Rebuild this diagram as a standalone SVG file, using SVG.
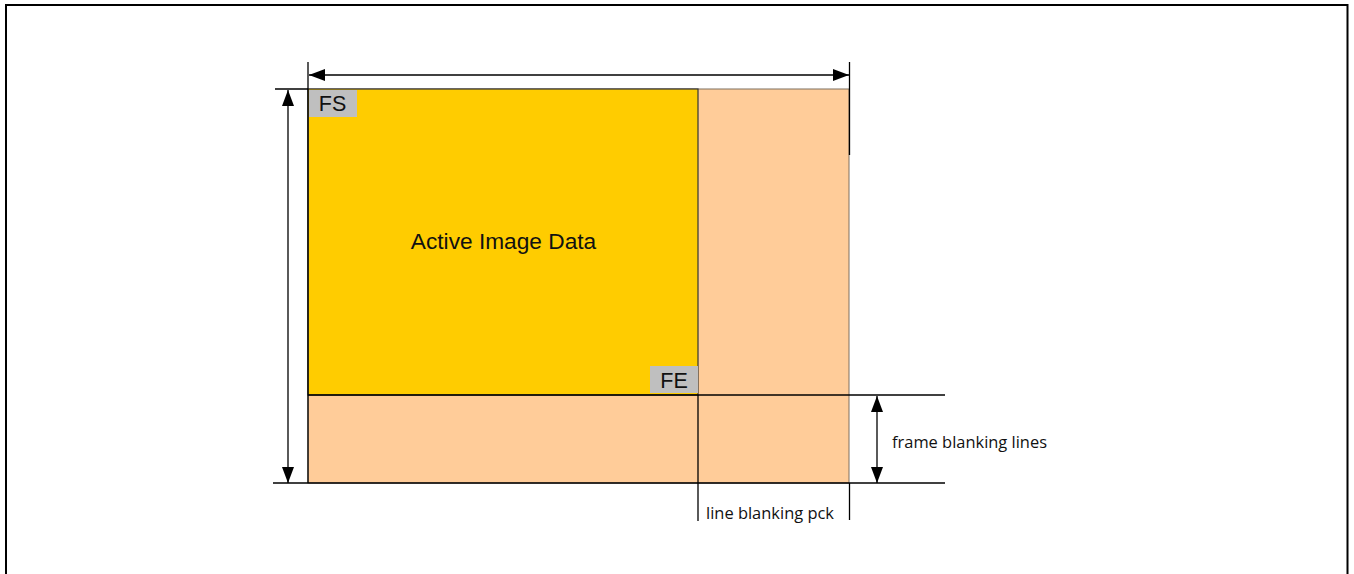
<svg xmlns="http://www.w3.org/2000/svg" width="1354" height="574" viewBox="0 0 1354 574">
<style>
.ln{stroke:#000;stroke-width:1.3;fill:none}
.sans{font-family:"Liberation Sans",Arial,sans-serif;fill:#111}
.cal{font-family:"Open Sans","Liberation Sans",sans-serif;font-size:16.3px;fill:#111}
</style>
<defs>
<marker id="ah" viewBox="0 0 16 12" refX="16" refY="6" markerWidth="16" markerHeight="12" markerUnits="userSpaceOnUse" orient="auto-start-reverse">
<path d="M0,0 L16,6 L0,12 z" fill="#000"/>
</marker>
</defs>
<rect width="1354" height="574" fill="#fff"/>
<path d="M6,574 V5 H1347.5 V574" fill="none" stroke="#000" stroke-width="2"/>
<g id="blanking">
<rect x="308" y="89" width="541" height="394" fill="#FFCC99" stroke="#7f7060" stroke-width="1"/>
</g>
<g id="active">
<rect x="308" y="89" width="390" height="306" fill="#FFCC00" stroke="#333" stroke-width="1.2"/>
<text class="sans" x="503.5" y="249" font-size="22.7" text-anchor="middle">Active Image Data</text>
</g>
<g id="fs">
<rect x="309" y="90" width="48" height="27" fill="#BFBFBF"/>
<text class="sans" x="332.5" y="111" font-size="21.5" text-anchor="middle">FS</text>
</g>
<g id="fe">
<rect x="650" y="366" width="48" height="27" fill="#BFBFBF"/>
<text class="sans" x="674" y="388" font-size="21.5" text-anchor="middle">FE</text>
</g>
<g id="connectors">
<line class="ln" x1="308" y1="62" x2="308" y2="483"/>
<line class="ln" x1="849.5" y1="62" x2="849.5" y2="155"/>
<line class="ln" x1="849.5" y1="483" x2="849.5" y2="520"/>
<line class="ln" x1="698" y1="395" x2="698" y2="521"/>
<line class="ln" x1="275" y1="89" x2="308" y2="89"/>
<line class="ln" x1="273" y1="483" x2="945" y2="483"/>
<line class="ln" x1="308" y1="395" x2="945" y2="395"/>
<line class="ln" x1="309" y1="75" x2="849" y2="75" marker-start="url(#ah)" marker-end="url(#ah)"/>
<line class="ln" x1="288" y1="90" x2="288" y2="483" marker-start="url(#ah)" marker-end="url(#ah)"/>
<line class="ln" x1="877" y1="396" x2="877" y2="483" marker-start="url(#ah)" marker-end="url(#ah)"/>
</g>
<g id="labels">
<text class="cal" x="892" y="448" textLength="155" lengthAdjust="spacingAndGlyphs">frame blanking lines</text>
<text class="cal" x="706" y="519" textLength="128" lengthAdjust="spacingAndGlyphs">line blanking pck</text>
</g>
</svg>
